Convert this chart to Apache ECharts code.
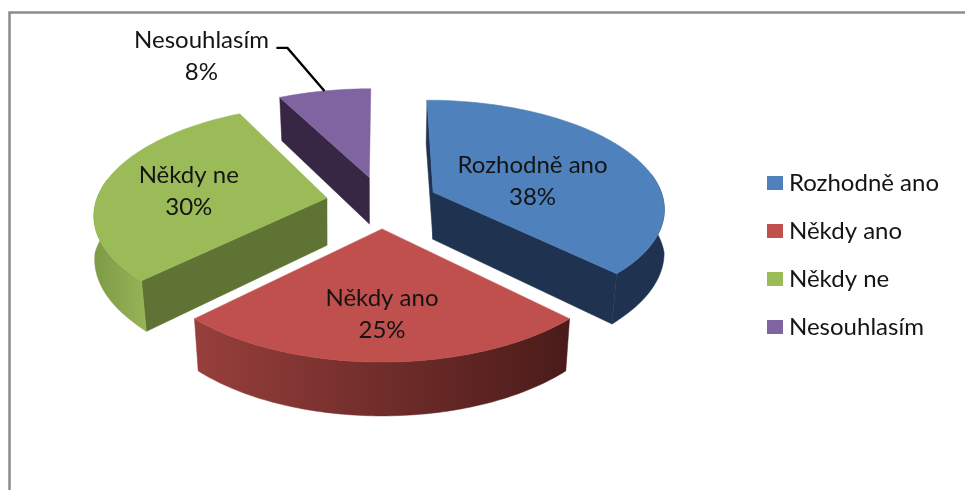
<!DOCTYPE html>
<html><head><meta charset="utf-8">
<script src="https://cdn.jsdelivr.net/npm/echarts@6/dist/echarts.min.js"></script>
<style>html,body{margin:0;padding:0;background:#fff}#c{width:965px;height:490px}</style>
</head><body><div id="c"></div>
<script>
const categories = ['Rozhodně ano', 'Někdy ano', 'Někdy ne', 'Nesouhlasím'];
const shares = [37.5, 25, 30, 7.5];

const topColors = ['#4f81bd', '#c0504d', '#9bbb59', '#8064a2'];
const wallColors = ['#1f3350', '#4a1b19', '#5f7434', '#372745'];
const arcLeft = ['#1f3350', '#973f3c', '#7d9a47', '#372745'];
const arcRight = ['#1f3350', '#4a1b19', '#96b555', '#372745'];
const drawOrder = [3, 4, 2, 1];
const labelRadius = [0.49, 0.67, 0.62, 1];
const labelNudge = [8, 1, 3, 0];

// projection settings of the tilted, exploded pie
const P = { cx: 382, cy: 202, a: 231, b: 107, ex: 56, ez: 26, persp: 0.00127 };
const FONT = 'Lato';
const LABEL = 24;

const total = shares.reduce((s, v) => s + v, 0);
const deg = Math.PI / 180;
function spanOf(i) {
  let s = 0;
  for (let k = 0; k < i; k++) s += shares[k];
  return [s / total * 360, (s + shares[i]) / total * 360];
}
function project(theta, r, mid) {
  const wx = P.ex * Math.sin(mid * deg) + P.a * r * Math.sin(theta * deg);
  const wz = -P.ez * Math.cos(mid * deg) - P.b * r * Math.cos(theta * deg);
  const s = 1 / (1 - P.persp * wz);
  return [P.cx + wx * s, P.cy + wz * s];
}
function drop(p) {
  const shrink = 1 - 0.02 * Math.min(1, Math.abs(p[1] - 205) / 65);
  return [P.cx + (p[0] - P.cx) * shrink, p[1] + 43 + (p[1] - 90) * 0.04];
}
function arc(from, to, mid) {
  const pts = [], n = Math.max(2, Math.ceil(Math.abs(to - from)));
  for (let j = 0; j <= n; j++) pts.push(project(from + (to - from) * j / n, 1, mid));
  return pts;
}
function poly(points, fill, z2) {
  return { type: 'polygon', z2: z2, shape: { points: points }, style: { fill: fill, stroke: fill, lineWidth: 0.5 } };
}
function renderSlice(i) {
  const sp = spanOf(i), mid = (sp[0] + sp[1]) / 2;
  const apex = project(0, 0, mid), children = [];
  const wall = (theta) => {
    const e = project(theta, 1, mid);
    return [apex, e, drop(e), drop(apex)];
  };
  // radial walls facing the viewer
  if (i === 0) children.push(poly(wall(sp[0]), wallColors[i], 1), poly(wall(sp[1]), wallColors[i], 1));
  if (i === 2 || i === 3) children.push(poly(wall(sp[0]), wallColors[i], 1));
  // outer curved wall
  const from = Math.max(sp[0], 80), to = Math.min(sp[1], 280);
  if (to > from) {
    const top = arc(from, to, mid);
    children.push(poly(top.concat(top.map(drop).reverse()), {
      type: 'linear', x: 0, y: 0, x2: 1, y2: 0,
      colorStops: [{ offset: 0, color: arcLeft[i] }, { offset: 1, color: arcRight[i] }]
    }, 2));
  }
  // top face
  children.push(poly([apex].concat(arc(sp[0], sp[1], mid)), topColors[i], 3));
  // label
  const pct = Math.round(shares[i] / total * 100) + '%';
  const textStyle = { fontFamily: FONT, fontSize: LABEL, fill: '#141414', align: 'center', verticalAlign: 'middle', lineHeight: 32 };
  if (i === 3) {
    const o = project(mid, 1, mid);
    children.push({ type: 'polyline', z2: 4, shape: { points: [[o[0] - 48, o[1] - 43], [o[0] - 37, o[1] - 43], o] }, style: { fill: 'none', stroke: '#000', lineWidth: 2.4 } });
    children.push({ type: 'text', z2: 5, style: Object.assign({ text: categories[i] + '\n' + pct, x: o[0] - 123, y: o[1] - 35 }, textStyle) });
  } else {
    const c = project(mid, labelRadius[i], mid);
    children.push({ type: 'text', z2: 5, style: Object.assign({ text: categories[i] + '\n' + pct, x: c[0], y: c[1] + labelNudge[i] }, textStyle) });
  }
  return { type: 'group', children: children };
}

const chart = echarts.init(document.getElementById('c'), null, { renderer: 'canvas' });
chart.setOption({
  animation: false,
  backgroundColor: '#ffffff',
  graphic: [{
    type: 'polyline', silent: true,
    shape: { points: [[9.5, 492], [9.5, 12.5], [967, 12.5]] },
    style: { fill: 'none', stroke: '#8c8c8c', lineWidth: 2.5 }
  }],
  legend: {
    orient: 'vertical', left: 762, top: 166, icon: 'rect',
    itemWidth: 16, itemHeight: 14, itemGap: 24, selectedMode: false,
    data: categories,
    textStyle: { fontFamily: FONT, fontSize: LABEL, color: '#141414', lineHeight: 24, padding: [0, 0, 0, 1] }
  },
  series: categories.map((name, i) => ({
    type: 'custom', name: name, coordinateSystem: 'none', z: drawOrder[i],
    itemStyle: { color: topColors[i] },
    data: [shares[i]],
    renderItem: () => renderSlice(i)
  }))
});
</script></body></html>
